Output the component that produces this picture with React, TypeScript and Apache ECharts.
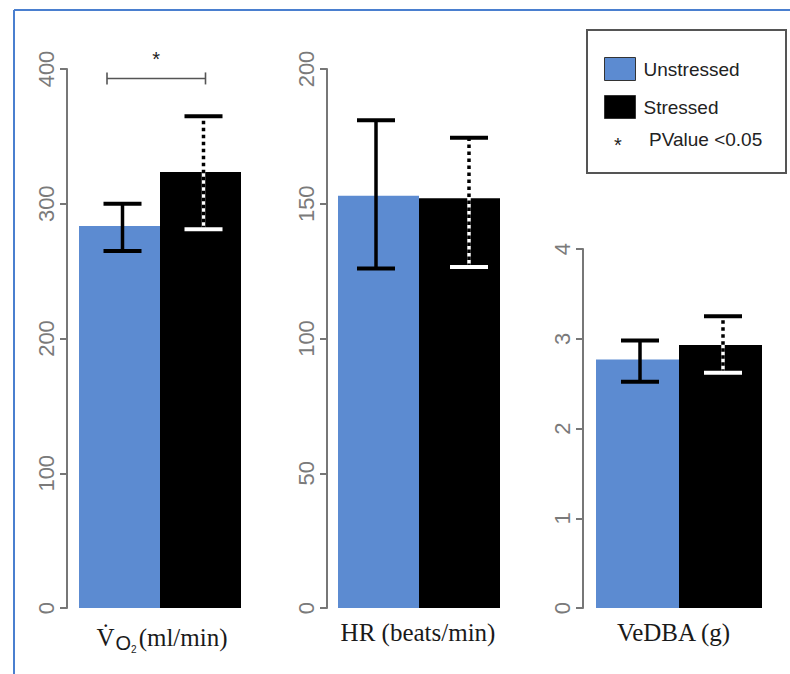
import React, { useEffect, useRef } from "react";
import * as echarts from "echarts";

// ---------- data ----------
const CATEGORIES = ["Unstressed", "Stressed"];

const VO2_MEAN = [283.5, 323.5];
const VO2_LOW = [265, 281];
const VO2_HIGH = [300, 365];

const HR_MEAN = [153, 152];
const HR_LOW = [126, 126.5];
const HR_HIGH = [181, 174.5];

const VEDBA_MEAN = [2.77, 2.93];
const VEDBA_LOW = [2.52, 2.62];
const VEDBA_HIGH = [2.98, 3.25];

const Y_MAX = [400, 200, 4];
const Y_STEP = [100, 50, 1];

const SIG_LEVEL = [393]; // VO2 significance bracket level (ml/min)
const LEGEND_NOTE = "PValue <0.05";

// ---------- layout / style ----------
const BLUE = "#5c8bd1";
const AXIS_GRAY = "#777";
const GRIDS = [
  { left: 79, top: 69, width: 162, height: 539, offset: 12 },
  { left: 338, top: 69, width: 162, height: 539, offset: 11 },
  { left: 596, top: 249, width: 166, height: 359, offset: 13 },
];
const ERR_NUDGE = [
  [3, 3],
  [-2.5, 9.5],
  [2.5, 2.5],
];

const PANELS = [
  { mean: VO2_MEAN, low: VO2_LOW, high: VO2_HIGH },
  { mean: HR_MEAN, low: HR_LOW, high: HR_HIGH },
  { mean: VEDBA_MEAN, low: VEDBA_LOW, high: VEDBA_HIGH },
];

function errRenderItem(nudges: number[]) {
  return (params: any, api: any) => {
    const cat = api.value(0);
    const lo = api.coord([cat, api.value(1)]);
    const hi = api.coord([cat, api.value(2)]);
    const x = lo[0] + nudges[cat];
    const half = 19;
    const children: any[] = [];
    if (cat === 0) {
      children.push({
        type: "line",
        shape: { x1: x, y1: lo[1], x2: x, y2: hi[1] },
        style: { stroke: "#000", lineWidth: 3.5 },
      });
      children.push({
        type: "line",
        shape: { x1: x - half, y1: hi[1], x2: x + half, y2: hi[1] },
        style: { stroke: "#000", lineWidth: 4 },
      });
      children.push({
        type: "line",
        shape: { x1: x - half, y1: lo[1], x2: x + half, y2: lo[1] },
        style: { stroke: "#000", lineWidth: 4 },
      });
    } else {
      children.push({
        type: "line",
        shape: { x1: x, y1: lo[1], x2: x, y2: hi[1] },
        style: { stroke: "#fff", lineWidth: 3.5 },
      });
      children.push({
        type: "line",
        shape: { x1: x, y1: lo[1], x2: x, y2: hi[1] },
        style: { stroke: "#000", lineWidth: 3.5, lineDash: [3.5, 3.5] },
      });
      children.push({
        type: "line",
        shape: { x1: x - half, y1: hi[1], x2: x + half, y2: hi[1] },
        style: { stroke: "#000", lineWidth: 4 },
      });
      children.push({
        type: "line",
        shape: { x1: x - half, y1: lo[1], x2: x + half, y2: lo[1] },
        style: { stroke: "#fff", lineWidth: 4 },
      });
    }
    return { type: "group", children };
  };
}

const serif = "'Liberation Serif', 'Times New Roman', serif";
const sans = "'Liberation Sans', Arial, sans-serif";

const X_NAMES = ["{v|V\u0307}{o|O}{s|2}{p|(ml/min)}", "HR (beats/min)", "VeDBA (g)"];
const X_NAME_PAD = [
  [0, 0, 0, 4],
  [0, 2, 0, 0],
  [0, 11, 0, 0],
];

export default function App() {
  const ref = useRef<HTMLDivElement>(null);

  useEffect(() => {
    if (!ref.current) return;
    const chart = echarts.init(ref.current, undefined, { renderer: "svg" });

    const grid = GRIDS.map((g) => ({
      left: g.left,
      top: g.top,
      width: g.width,
      height: g.height,
      containLabel: false,
    }));

    const xAxis = GRIDS.map((g, i) => ({
      type: "category",
      gridIndex: i,
      data: CATEGORIES,
      axisLine: { show: false },
      axisTick: { show: false },
      axisLabel: { show: false },
      name: X_NAMES[i],
      nameLocation: "middle",
      nameGap: 12,
      nameTextStyle: {
        fontFamily: serif,
        fontSize: 25,
        color: "#1a1a1a",
        verticalAlign: "top",
        padding: X_NAME_PAD[i],
        rich: {
          v: { fontFamily: serif, fontSize: 25, color: "#1a1a1a" },
          o: { fontFamily: sans, fontSize: 20, color: "#1a1a1a", padding: [11, 0, 0, 1] },
          s: { fontFamily: sans, fontSize: 10, color: "#1a1a1a", padding: [24, 2, 0, 0] },
          p: { fontFamily: serif, fontSize: 25, color: "#1a1a1a" },
        },
      },
    }));

    const yAxis = GRIDS.map((g, i) => ({
      type: "value",
      gridIndex: i,
      min: 0,
      max: Y_MAX[i],
      interval: Y_STEP[i],
      offset: g.offset,
      axisLine: { show: true, lineStyle: { color: AXIS_GRAY, width: 2 } },
      axisTick: { show: true, length: 7, lineStyle: { color: AXIS_GRAY, width: 2 } },
      axisLabel: {
        rotate: 90,
        fontSize: 22,
        fontFamily: sans,
        color: "#7a7a7a",
        margin: 10,
      },
      splitLine: { show: false },
    }));

    const series: any[] = [];
    PANELS.forEach((p, i) => {
      series.push({
        type: "bar",
        name: CATEGORIES[0],
        xAxisIndex: i,
        yAxisIndex: i,
        stack: "panel" + i,
        data: p.mean.map((v, k) => (k === 0 ? v : "-")),
        barCategoryGap: 0,
        barWidth: "100%",
        itemStyle: { color: BLUE, borderWidth: 0 },
      });
      series.push({
        type: "bar",
        name: CATEGORIES[1],
        xAxisIndex: i,
        yAxisIndex: i,
        stack: "panel" + i,
        data: p.mean.map((v, k) => (k === 1 ? v : "-")),
        barCategoryGap: 0,
        barWidth: "100%",
        itemStyle: { color: "#000", borderWidth: 0 },
      });
      series.push({
        type: "custom",
        name: "err" + i,
        xAxisIndex: i,
        yAxisIndex: i,
        z: 5,
        clip: false,
        encode: { x: 0, y: [1, 2] },
        data: CATEGORIES.map((c, k) => [k, p.low[k], p.high[k]]),
        renderItem: errRenderItem(ERR_NUDGE[i]),
      });
    });

    // significance bracket on VO2 panel
    series.push({
      type: "custom",
      name: "sig",
      xAxisIndex: 0,
      yAxisIndex: 0,
      z: 5,
      clip: false,
      encode: { y: 0 },
      data: SIG_LEVEL.map((v) => [v]),
      renderItem: (params: any, api: any) => {
        const lvl = api.value(0);
        const a = api.coord([0, lvl]);
        const b = api.coord([1, lvl]);
        const x1 = a[0] - 12.5;
        const x2 = b[0] + 5;
        const y = a[1];
        const st = { stroke: "#555", lineWidth: 1.6 };
        return {
          type: "group",
          children: [
            { type: "line", shape: { x1, y1: y, x2, y2: y }, style: st },
            { type: "line", shape: { x1, y1: y - 6, x2: x1, y2: y + 6 }, style: st },
            { type: "line", shape: { x1: x2, y1: y - 6, x2, y2: y + 6 }, style: st },
            {
              type: "text",
              style: {
                text: "*",
                x: (x1 + x2) / 2,
                y: y - 19,
                fill: "#222",
                font: `20px ${sans}`,
                align: "center",
                verticalAlign: "middle",
              },
            },
          ],
        };
      },
    });

    chart.setOption({
      animation: false,
      backgroundColor: "#fff",
      grid,
      xAxis,
      yAxis,
      series,
      legend: {
        data: CATEGORIES.map((c) => ({
          name: c,
          itemStyle: { borderColor: "#333", borderWidth: 1 },
        })),
        orient: "vertical",
        left: 604,
        top: 57,
        padding: 0,
        itemWidth: 31,
        itemHeight: 23,
        itemGap: 14,
        selectedMode: false,
        icon: "rect",
        textStyle: { fontFamily: sans, fontSize: 19, color: "#222", padding: [0, 0, 0, 3] },
      },
      graphic: [
        {
          type: "line",
          shape: { x1: 14, y1: 10, x2: 790, y2: 10 },
          style: { stroke: "#4a7fcf", lineWidth: 2 },
        },
        {
          type: "line",
          shape: { x1: 14, y1: 10, x2: 14, y2: 674 },
          style: { stroke: "#4a7fcf", lineWidth: 2 },
        },
        {
          type: "rect",
          shape: { x: 587, y: 30, width: 199, height: 143 },
          style: { fill: "none", stroke: "#555", lineWidth: 2 },
        },
        {
          type: "text",
          x: 618,
          y: 145,
          style: { text: "*", font: `20px ${sans}`, fill: "#222", align: "center", verticalAlign: "middle" },
        },
        {
          type: "text",
          x: 649,
          y: 139,
          style: { text: LEGEND_NOTE, font: `19px ${sans}`, fill: "#222", align: "left", verticalAlign: "middle" },
        },
      ],
    });

    return () => chart.dispose();
  }, []);

  return (
    <div
      ref={ref}
      style={{ position: "fixed", left: 0, top: 0, width: 790, height: 674, background: "#fff" }}
    />
  );
}
